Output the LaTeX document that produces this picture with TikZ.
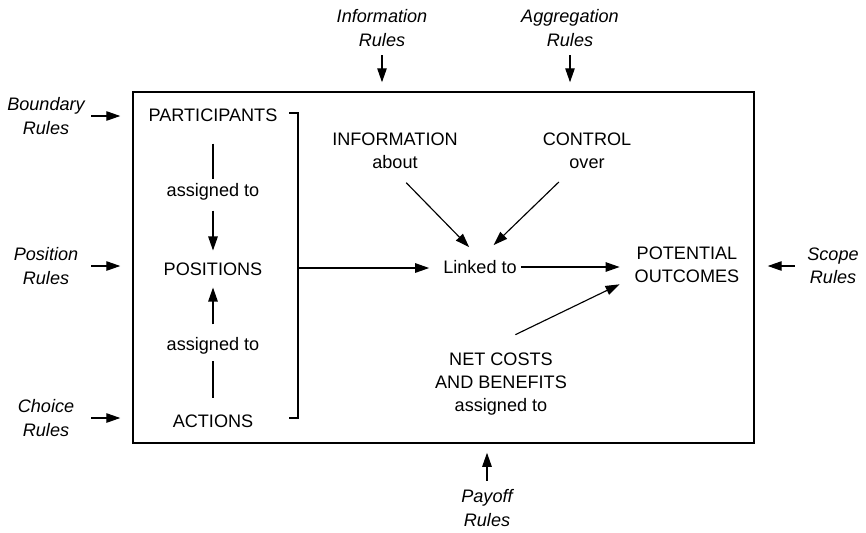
\documentclass[tikz,border=0pt]{standalone}
\usepackage{fontspec}
\setmainfont{Liberation Sans}
\usetikzlibrary{arrows.meta}
\tikzset{
  txt/.style={font=\fontsize{10.3}{13.3}\selectfont, align=center, inner sep=1pt},
  rule/.style={txt, font=\fontsize{10.3}{13.3}\selectfont\itshape},
  siderule/.style={rule, text width=1.7cm},
  arr/.style={-{Triangle[length=2.8mm,width=1.9mm]}, line width=.65pt},
  ln/.style={line width=.65pt},
  frame/.style={draw, line width=.9pt, minimum width=12.42cm, minimum height=7.02cm, inner sep=0pt},
}
\begin{document}
\begin{tikzpicture}[x=.02cm, y=-.02cm]
  \useasboundingbox (0,0) rectangle (866,532);
  \node[frame] (box) at (443.5,267.5) {};

  \node[siderule] (bnd)  at (46,116)  {Boundary\\Rules};
  \node[siderule] (posr) at (46,266)  {Position\\Rules};
  \node[siderule] (chc)  at (46,418)  {Choice\\Rules};
  \node[rule]     (scp)  at (833,266) {Scope\\Rules};
  \node[rule]     (infr) at (382,28)  {Information\\Rules};
  \node[rule]     (aggr) at (570,28)  {Aggregation\\Rules};
  \node[rule]     (pay)  at (487,508) {Payoff\\Rules};

  \node[txt] (part) at (213,115)   {PARTICIPANTS};
  \node[txt] (asg1) at (213,192)   {assigned to};
  \node[txt] (pos)  at (213,269)   {POSITIONS};
  \node[txt] (asg2) at (213,345.5) {assigned to};
  \node[txt] (act)  at (213,421.5) {ACTIONS};
  \node[txt] (info) at (395,151)   {INFORMATION\\about};
  \node[txt] (ctrl) at (587,151)   {CONTROL\\over};
  \node[txt] (link) at (480,267)   {Linked to};
  \node[txt] (pot)  at (687,265)   {POTENTIAL\\OUTCOMES};
  \node[txt] (net)  at (501,384)   {NET COSTS\\AND BENEFITS\\assigned to};

  \draw[arr, shorten <=.01cm, shorten >=.24cm] (bnd.east) -- (bnd.east -| box.west);
  \draw[arr, shorten <=.01cm, shorten >=.24cm] (posr.east) -- (posr.east -| box.west);
  \draw[arr, shorten <=.01cm, shorten >=.24cm] (chc.east) -- (chc.east -| box.west);
  \draw[arr, shorten <=.21cm, shorten >=.26cm] (scp.west) -- (scp.west -| box.east);
  \draw[arr, shorten <=.14cm, shorten >=.18cm] (infr.south) -- (infr.south |- box.north);
  \draw[arr, shorten <=.14cm, shorten >=.18cm] (aggr.south) -- (aggr.south |- box.north);
  \draw[arr, shorten <=.14cm, shorten >=.18cm] (pay.north) -- (pay.north |- box.south);

  \draw[ln, shorten <=.4cm, shorten >=.04cm] (part) -- (asg1);
  \draw[arr, shorten <=.16cm, shorten >=.2cm] (asg1) -- (pos);
  \draw[ln, shorten <=.3cm, shorten >=.09cm] (act) -- (asg2);
  \draw[arr, shorten <=.21cm, shorten >=.2cm] (asg2) -- (pos);

  \coordinate (brk1) at (289,113);
  \coordinate (brk2) at (298,268);
  \coordinate (brk3) at (289,418);
  \draw[ln] (brk1) -| (brk2) |- (brk3);
  \draw[arr, shorten >=.24cm] (brk2) -- (brk2 -| link.west);

  \draw[arr, shorten <=.32cm, shorten >=.31cm] (info.south) -- (link.north);
  \draw[arr, shorten <=.31cm, shorten >=.38cm] ([xshift=-.34cm]ctrl.south) -- (link.north);
  \draw[arr, shorten <=.04cm, shorten >=.26cm] (link.east) -- (link.east -| pot.west);
  \draw[arr, shorten <=.72cm, shorten >=.29cm] ([xshift=-.36cm]net.north) -- ([yshift=-.26cm]pot.west);
\end{tikzpicture}
\end{document}
